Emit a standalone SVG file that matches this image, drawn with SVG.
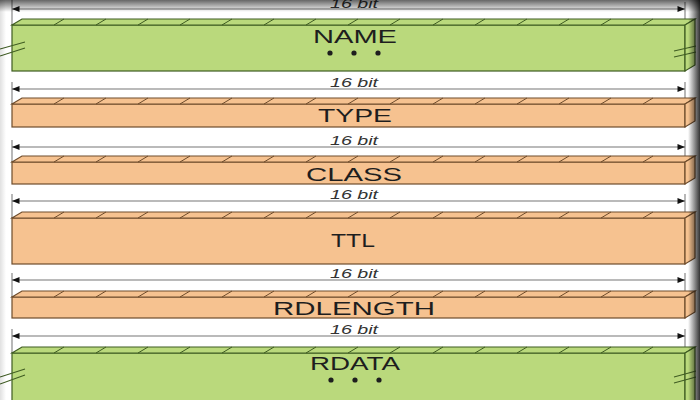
<svg xmlns="http://www.w3.org/2000/svg" width="700" height="400" viewBox="0 0 700 400">
<style>
.g{fill:#bad97c;stroke:#3f5c22;stroke-width:1.2}
.o{fill:#f6c290;stroke:#6e4c2c;stroke-width:1.2}
.tk{stroke-width:1;fill:none}
.gt{stroke:#3f5c22}
.ot{stroke:#6e4c2c}
.dim{stroke:#777;stroke-width:1.2;fill:none}
.ext{stroke:#888;stroke-width:1.2}
.bit{font-family:"Liberation Sans",Arial,sans-serif;font-style:italic;font-size:12px;fill:#333;text-anchor:middle}
.lbl{font-family:"Liberation Sans",Arial,sans-serif;font-size:18px;fill:#1e1e1e;text-anchor:middle}
.brk{stroke:#3f5c22;stroke-width:1.1;fill:none}
.dot{fill:#1e1e1e}
</style>
<defs>
<marker id="ah" viewBox="0 0 10 8" refX="10" refY="4" markerWidth="8" markerHeight="6" markerUnits="userSpaceOnUse" orient="auto-start-reverse">
<path d="M0,0 L10,4 L0,8 z" fill="#111"/>
</marker>
<linearGradient id="vt" x1="0" y1="0" x2="0" y2="1">
<stop offset="0" stop-color="#000" stop-opacity="0.6"/>
<stop offset="1" stop-color="#000" stop-opacity="0"/>
</linearGradient>
<linearGradient id="vr" x1="0" y1="0" x2="1" y2="0">
<stop offset="0" stop-color="#000" stop-opacity="0"/>
<stop offset="1" stop-color="#000" stop-opacity="0.8"/>
</linearGradient>
<linearGradient id="vl" x1="0" y1="0" x2="1" y2="0">
<stop offset="0" stop-color="#000" stop-opacity="0.12"/>
<stop offset="1" stop-color="#000" stop-opacity="0"/>
</linearGradient>
</defs>
<rect width="700" height="400" fill="#fff"/>

<g id="connectors">
<line class="ext" x1="12" y1="0" x2="12" y2="25"/><line class="ext" x1="685" y1="2" x2="685" y2="19"/>
<line class="dim" x1="12" y1="9" x2="685" y2="9" marker-start="url(#ah)" marker-end="url(#ah)"/>
<line class="ext" x1="12" y1="82" x2="12" y2="104"/><line class="ext" x1="685" y1="82" x2="685" y2="98"/>
<line class="dim" x1="12" y1="89" x2="685" y2="89" marker-start="url(#ah)" marker-end="url(#ah)"/>
<line class="ext" x1="12" y1="140" x2="12" y2="162"/><line class="ext" x1="685" y1="140" x2="685" y2="156"/>
<line class="dim" x1="12" y1="147" x2="685" y2="147" marker-start="url(#ah)" marker-end="url(#ah)"/>
<line class="ext" x1="12" y1="194" x2="12" y2="218"/><line class="ext" x1="685" y1="194" x2="685" y2="212"/>
<line class="dim" x1="12" y1="201" x2="685" y2="201" marker-start="url(#ah)" marker-end="url(#ah)"/>
<line class="ext" x1="12" y1="273" x2="12" y2="297"/><line class="ext" x1="685" y1="273" x2="685" y2="291"/>
<line class="dim" x1="12" y1="280" x2="685" y2="280" marker-start="url(#ah)" marker-end="url(#ah)"/>
<line class="ext" x1="12" y1="329" x2="12" y2="353"/><line class="ext" x1="685" y1="329" x2="685" y2="347"/>
<line class="dim" x1="12" y1="336" x2="685" y2="336" marker-start="url(#ah)" marker-end="url(#ah)"/>
</g>

<g id="labels-bit">
<text class="bit" x="354" y="7.5" textLength="48" lengthAdjust="spacingAndGlyphs">16 bit</text>
<text class="bit" x="354" y="87" textLength="48" lengthAdjust="spacingAndGlyphs">16 bit</text>
<text class="bit" x="354" y="145" textLength="48" lengthAdjust="spacingAndGlyphs">16 bit</text>
<text class="bit" x="354" y="199" textLength="48" lengthAdjust="spacingAndGlyphs">16 bit</text>
<text class="bit" x="354" y="278" textLength="48" lengthAdjust="spacingAndGlyphs">16 bit</text>
<text class="bit" x="354" y="334" textLength="48" lengthAdjust="spacingAndGlyphs">16 bit</text>
</g>

<g id="name">
<rect class="g" x="12" y="25" width="673" height="46"/>
<polygon class="g" points="12,25 22,19 695,19 685,25"/>
<polygon class="g" points="685,25 695,19 695,65 685,71"/>
<path class="tk gt" d="M54,25l10,-6M96,25l10,-6M138,25l10,-6M180,25l10,-6M222,25l10,-6M264,25l10,-6M306,25l10,-6M348,25l10,-6M390,25l10,-6M433,25l10,-6M475,25l10,-6M517,25l10,-6M559,25l10,-6M601,25l10,-6M643,25l10,-6"/>
<path class="brk" d="M0,49L25,42M0,56L25,48M674,51L696,46M674,57L696,52"/>
<text class="lbl" x="355" y="43" textLength="84" lengthAdjust="spacingAndGlyphs">NAME</text>
<circle class="dot" cx="330" cy="53" r="2.6"/><circle class="dot" cx="354" cy="53" r="2.6"/><circle class="dot" cx="378" cy="53" r="2.6"/>
</g>

<g id="type">
<rect class="o" x="12" y="104" width="673" height="23"/>
<polygon class="o" points="12,104 22,98 695,98 685,104"/>
<polygon class="o" points="685,104 695,98 695,121 685,127"/>
<path class="tk ot" d="M54,104l10,-6M96,104l10,-6M138,104l10,-6M180,104l10,-6M222,104l10,-6M264,104l10,-6M306,104l10,-6M348,104l10,-6M390,104l10,-6M433,104l10,-6M475,104l10,-6M517,104l10,-6M559,104l10,-6M601,104l10,-6M643,104l10,-6"/>
<text class="lbl" x="355" y="122" textLength="74" lengthAdjust="spacingAndGlyphs">TYPE</text>
</g>

<g id="class">
<rect class="o" x="12" y="162" width="673" height="22"/>
<polygon class="o" points="12,162 22,156 695,156 685,162"/>
<polygon class="o" points="685,162 695,156 695,178 685,184"/>
<path class="tk ot" d="M54,162l10,-6M96,162l10,-6M138,162l10,-6M180,162l10,-6M222,162l10,-6M264,162l10,-6M306,162l10,-6M348,162l10,-6M390,162l10,-6M433,162l10,-6M475,162l10,-6M517,162l10,-6M559,162l10,-6M601,162l10,-6M643,162l10,-6"/>
<text class="lbl" x="354" y="181" textLength="96" lengthAdjust="spacingAndGlyphs">CLASS</text>
</g>

<g id="ttl">
<rect class="o" x="12" y="218" width="673" height="46"/>
<polygon class="o" points="12,218 22,212 695,212 685,218"/>
<polygon class="o" points="685,218 695,212 695,258 685,264"/>
<path class="tk ot" d="M54,218l10,-6M96,218l10,-6M138,218l10,-6M180,218l10,-6M222,218l10,-6M264,218l10,-6M306,218l10,-6M348,218l10,-6M390,218l10,-6M433,218l10,-6M475,218l10,-6M517,218l10,-6M559,218l10,-6M601,218l10,-6M643,218l10,-6"/>
<text class="lbl" x="353" y="247" textLength="44" lengthAdjust="spacingAndGlyphs">TTL</text>
</g>

<g id="rdlength">
<rect class="o" x="12" y="297" width="673" height="21"/>
<polygon class="o" points="12,297 22,291 695,291 685,297"/>
<polygon class="o" points="685,297 695,291 695,312 685,318"/>
<path class="tk ot" d="M54,297l10,-6M96,297l10,-6M138,297l10,-6M180,297l10,-6M222,297l10,-6M264,297l10,-6M306,297l10,-6M348,297l10,-6M390,297l10,-6M433,297l10,-6M475,297l10,-6M517,297l10,-6M559,297l10,-6M601,297l10,-6M643,297l10,-6"/>
<text class="lbl" x="354" y="315" textLength="162" lengthAdjust="spacingAndGlyphs">RDLENGTH</text>
</g>

<g id="rdata">
<rect class="g" x="12" y="353" width="673" height="60"/>
<polygon class="g" points="12,353 22,347 695,347 685,353"/>
<polygon class="g" points="685,353 695,347 695,407 685,413"/>
<path class="tk gt" d="M54,353l10,-6M96,353l10,-6M138,353l10,-6M180,353l10,-6M222,353l10,-6M264,353l10,-6M306,353l10,-6M348,353l10,-6M390,353l10,-6M433,353l10,-6M475,353l10,-6M517,353l10,-6M559,353l10,-6M601,353l10,-6M643,353l10,-6"/>
<path class="brk" d="M0,377L25,369M0,384L25,375M674,377L696,371M674,383L696,377"/>
<text class="lbl" x="355" y="370" textLength="90" lengthAdjust="spacingAndGlyphs">RDATA</text>
<circle class="dot" cx="331" cy="380" r="2.6"/><circle class="dot" cx="355" cy="380" r="2.6"/><circle class="dot" cx="379" cy="380" r="2.6"/>
</g>

<rect x="0" y="0" width="700" height="12" fill="url(#vt)"/>
<rect x="688" y="0" width="12" height="400" fill="url(#vr)"/>
<rect x="0" y="0" width="6" height="400" fill="url(#vl)"/>
</svg>
